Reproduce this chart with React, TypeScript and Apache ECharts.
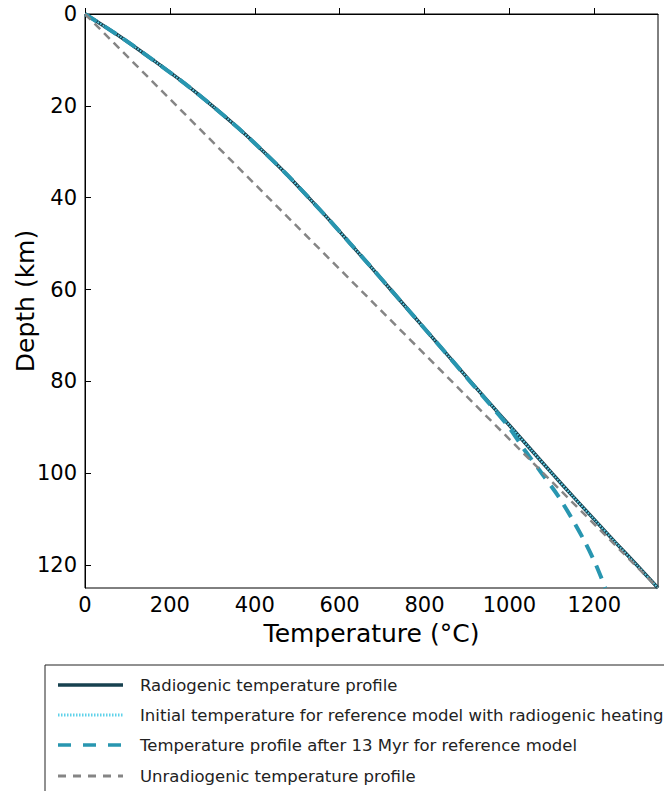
import React, { useEffect, useRef } from "react";
import * as echarts from "echarts";

// Depth (km) sampling for the profiles
const depthKm = [0, 5, 10, 15, 20, 25, 30, 35, 40, 45, 50, 55, 60, 65, 70, 75, 80, 85, 90, 95, 100, 105, 110, 115, 120, 125];
// Temperatures (°C)
const radiogenicTemp = [0, 84, 160, 233, 300, 363, 421, 476, 527, 577, 625, 673, 720, 767, 814, 861, 908, 956, 1004, 1052, 1100, 1149, 1199, 1249, 1300, 1350];
const initialTemp = [0, 84, 160, 233, 300, 363, 421, 476, 527, 577, 625, 673, 720, 767, 814, 861, 908, 956, 1004, 1052, 1100, 1149, 1199, 1249, 1300, 1350];
const after13MyrTemp = [0, 84, 160, 233, 300, 363, 421, 476, 527, 577, 625, 673, 720, 767, 814, 861, 907, 954, 999, 1036, 1076, 1115, 1148, 1178, 1204, 1226];
const unradioDepth = [0, 125];
const unradioTemp = [0, 1350];

const seriesNames = [
  "Radiogenic temperature profile",
  "Initial temperature for reference model with radiogenic heating",
  "Temperature profile after 13 Myr for reference model",
  "Unradiogenic temperature profile",
];

const FONT = "DejaVu Sans";
const C_DARK = "#17414f";
const C_CYAN = "#5fd2ea";
const C_TEAL = "#2896b0";
const C_GRAY = "#858585";

export default function App() {
  const ref = useRef<HTMLDivElement>(null);
  useEffect(() => {
    if (!ref.current) return;
    const chart = echarts.init(ref.current, undefined, { renderer: "svg" });
    const pairs = (t: number[], d: number[]) => t.map((v, i) => [v, d[i]]);
    const legendRows = [685, 715, 745, 776];
    const legendGraphics: any[] = [
      {
        type: "rect",
        shape: { x: 45, y: 665, width: 640, height: 140 },
        style: { fill: "#fff", stroke: "#222", lineWidth: 1 },
      },
    ];
    const legendStyles = [
      { stroke: C_DARK, lineWidth: 3.5, lineDash: null },
      { stroke: C_CYAN, lineWidth: 3, lineDash: [1.5, 1.5] },
      { stroke: C_TEAL, lineWidth: 3.5, lineDash: [13, 12] },
      { stroke: C_GRAY, lineWidth: 3, lineDash: [8, 7] },
    ];
    legendRows.forEach((y, i) => {
      legendGraphics.push({
        type: "line",
        shape: { x1: 58, y1: y, x2: 123, y2: y },
        style: { ...legendStyles[i], fill: null },
      });
      legendGraphics.push({
        type: "text",
        x: 140,
        y: y,
        style: {
          text: seriesNames[i],
          fontFamily: FONT,
          fontSize: 16.5,
          fill: "#222",
          verticalAlign: "middle",
          align: "left",
        },
      });
    });

    const fmt = (v: number) => String(v);

    chart.setOption({
      animation: false,
      grid: {
        left: 85,
        top: 14,
        right: 6,
        bottom: 203,
        containLabel: false,
        outerBoundsMode: "none",
        show: true,
        borderColor: "#000",
        borderWidth: 1,
        backgroundColor: "#fff",
      },
      xAxis: {
        type: "value",
        min: 0,
        max: 1350,
        interval: 200,
        name: "Temperature (°C)",
        nameLocation: "middle",
        nameGap: 33,
        nameTextStyle: { fontFamily: FONT, fontSize: 25, color: "#000" },
        axisLine: { show: true, lineStyle: { color: "#000", width: 1 } },
        axisTick: { show: true, inside: true, length: 6, lineStyle: { color: "#000" } },
        axisLabel: { fontFamily: FONT, fontSize: 21, color: "#000", margin: 6, showMaxLabel: false, formatter: fmt },
        splitLine: { show: false },
      },
      yAxis: {
        type: "value",
        inverse: true,
        min: 0,
        max: 125,
        interval: 20,
        name: "Depth (km)",
        nameLocation: "middle",
        nameGap: 47,
        nameMoveOverlap: false,
        nameRotate: 90,
        nameTextStyle: { fontFamily: FONT, fontSize: 25, color: "#000" },
        axisLine: { show: true, lineStyle: { color: "#000", width: 1 } },
        axisTick: { show: true, inside: true, length: 6, lineStyle: { color: "#000" } },
        axisLabel: { fontFamily: FONT, fontSize: 21, color: "#000", margin: 8, showMaxLabel: false, formatter: fmt },
        splitLine: { show: false },
      },
      series: [
        {
          name: seriesNames[0],
          type: "line",
          data: pairs(radiogenicTemp, depthKm),
          showSymbol: false,
          smooth: 0.3,
          lineStyle: { color: C_DARK, width: 3.5 },
          z: 2,
        },
        {
          name: seriesNames[1],
          type: "line",
          data: pairs(initialTemp, depthKm),
          showSymbol: false,
          smooth: 0.3,
          lineStyle: { color: C_CYAN, width: 2, type: [1.5, 1.5] },
          z: 3,
        },
        {
          name: seriesNames[2],
          type: "line",
          data: pairs(after13MyrTemp, depthKm),
          showSymbol: false,
          smooth: 0.3,
          lineStyle: { color: C_TEAL, width: 4, type: [14, 9] },
          z: 4,
        },
        {
          name: seriesNames[3],
          type: "line",
          data: pairs(unradioTemp, unradioDepth),
          showSymbol: false,
          lineStyle: { color: C_GRAY, width: 2.5, type: [8, 5.5] },
          z: 5,
        },
      ],
      graphic: legendGraphics,
    });
    return () => chart.dispose();
  }, []);
  return <div ref={ref} style={{ width: 664, height: 791, position: "absolute", left: 0, top: 0 }} />;
}
